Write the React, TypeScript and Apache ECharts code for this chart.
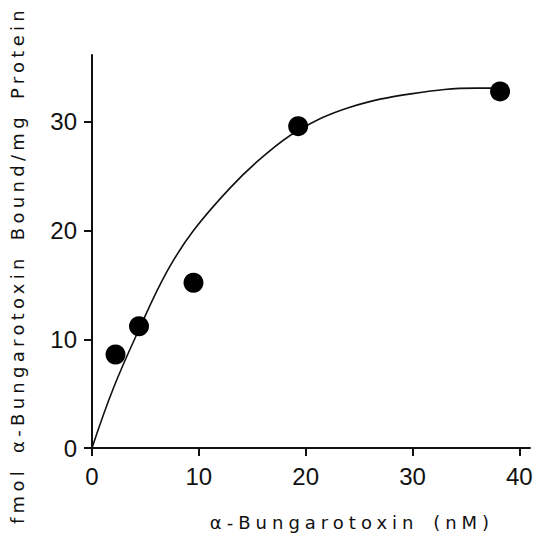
import React, { useEffect, useRef } from "react";
import * as echarts from "echarts";

const xTicks = [0, 10, 20, 30, 40];
const yTicks = [0, 10, 20, 30];
const measuredX = [2.2, 4.4, 9.5, 19.3, 38.2];
const measuredY = [8.6, 11.2, 15.2, 29.6, 32.8];
const curveX = [0, 2, 4.4, 7, 9.5, 13, 16, 19.3, 24, 30, 36, 38.2];
const curveY = [0, 5.5, 10.9, 16.2, 20, 24, 26.8, 29.2, 31.3, 32.6, 33.1, 33.1];
const xTitle = "α-Bungarotoxin (nM)";
const yTitle = "fmol α-Bungarotoxin Bound/mg Protein";

const xTitleFont = "'DejaVu Sans', sans-serif";
const yTitleFont = "'DejaVu Sans', Verdana, sans-serif";
const tickFont = "'Liberation Sans', sans-serif";

export default function App() {
  const ref = useRef<HTMLDivElement>(null);
  useEffect(() => {
    document.body.style.margin = "0";
    const chart = echarts.init(ref.current!, null, { renderer: "svg" });
    chart.setOption({
      animation: false,
      backgroundColor: "#fff",
      grid: { left: 92, right: 11, top: 55, bottom: 90 },
      xAxis: {
        type: "value",
        min: 0,
        max: 41,
        interval: 10,
        splitLine: { show: false },
        axisLine: { show: true, lineStyle: { color: "#111", width: 2 } },
        axisTick: { show: true, length: 8, lineStyle: { color: "#111", width: 2 }, customValues: xTicks },
        axisLabel: { color: "#111", fontSize: 24, fontFamily: tickFont, margin: 16, customValues: xTicks },
      },
      yAxis: {
        type: "value",
        min: 0,
        max: 36.15,
        interval: 10,
        splitLine: { show: false },
        axisLine: { show: true, lineStyle: { color: "#111", width: 2 } },
        axisTick: { show: true, length: 8, lineStyle: { color: "#111", width: 2 }, customValues: yTicks },
        axisLabel: { color: "#111", fontSize: 24, fontFamily: tickFont, margin: 15, customValues: yTicks },
      },
      graphic: [
        {
          type: "text",
          x: 352,
          y: 522,
          style: {
            text: xTitle,
            fontSize: 18,
            fontFamily: xTitleFont,
            fill: "#111",
            align: "center",
            verticalAlign: "middle",
          },
        },
        {
          type: "text",
          x: 17,
          y: 265,
          rotation: Math.PI / 2,
          style: {
            text: yTitle,
            fontSize: 18,
            fontFamily: yTitleFont,
            fill: "#111",
            align: "center",
            verticalAlign: "middle",
          },
        },
      ],
      series: [
        {
          type: "line",
          data: curveX.map((x, i) => [x, curveY[i]]),
          smooth: 0.4,
          showSymbol: false,
          lineStyle: { color: "#111", width: 1.6 },
          z: 2,
        },
        {
          type: "scatter",
          data: measuredX.map((x, i) => [x, measuredY[i]]),
          symbol: "circle",
          symbolSize: 20,
          itemStyle: { color: "#000", opacity: 1 },
          z: 3,
        },
      ],
    });
    return () => chart.dispose();
  }, []);
  return (
    <>
      <style>{`
        text[style*="DejaVu"], text[font-family*="DejaVu"] { letter-spacing: 5px; word-spacing: 4px; }
        text[style*="Verdana"], text[font-family*="Verdana"] { letter-spacing: 4.3px; word-spacing: 4px; }
      `}</style>
      <div ref={ref} style={{ width: 541, height: 538 }} />
    </>
  );
}
